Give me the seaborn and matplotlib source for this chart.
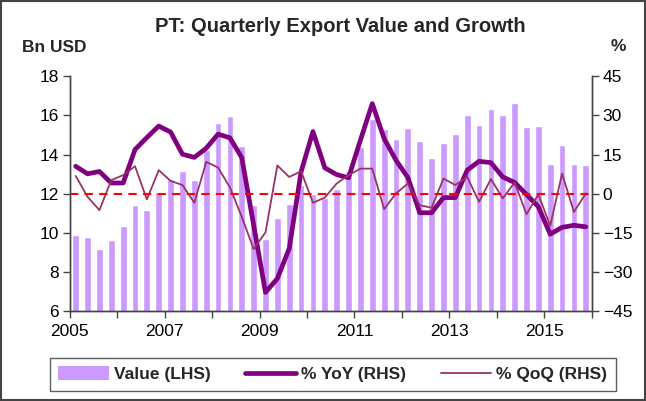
import numpy as np
import pandas as pd
import matplotlib
matplotlib.use("Agg")
import matplotlib.pyplot as plt
import seaborn as sns
from matplotlib.patches import Patch, Rectangle
from matplotlib.lines import Line2D

# Quarterly data, 2005Q1 - 2015Q4
years = [str(y) for y in range(2005, 2017)]
quarters = [f"{y}Q{q}" for y in range(2005, 2016) for q in range(1, 5)]

value_bn = [9.9, 9.8, 9.15, 9.65, 10.35, 11.4, 11.15, 12.1,
            12.75, 13.15, 12.7, 14.25, 15.6, 15.95, 14.45, 11.4,
            9.7, 10.75, 11.45, 12.45, 12.0, 11.8, 12.25, 13.15,
            14.4, 15.8, 15.3, 14.8, 15.35, 14.7, 13.8, 14.6,
            15.05, 16.0, 15.5, 16.3, 16.0, 16.65, 15.4, 15.45,
            13.5, 14.5, 13.5, 13.45]

yoy_pct = [10.5, 7.6, 8.5, 4.1, 4.1, 16.9, 21.5, 25.9,
           23.6, 15.1, 13.9, 17.4, 22.8, 21.4, 13.8, -12.0,
           -37.8, -32.5, -21.0, 8.4, 23.8, 9.9, 7.3, 6.1,
           20.5, 34.5, 21.1, 12.8, 6.2, -7.3, -7.3, -1.5,
           -1.5, 9.0, 12.4, 11.9, 6.4, 4.3, -0.3, -5.0,
           -15.5, -12.9, -12.1, -12.7]

qoq_pct = [6.8, -1.2, -6.3, 5.2, 7.1, 10.5, -2.2, 9.0,
           4.9, 3.3, -3.5, 12.2, 10.0, 2.4, -8.9, -21.2,
           -14.8, 10.8, 6.4, 8.6, -3.5, -1.5, 3.9, 7.1,
           9.6, 9.6, -5.9, 0.1, 3.9, -4.4, -5.4, 5.8,
           3.3, 6.4, -3.1, 5.6, -1.8, 4.3, -7.9, -0.3,
           -12.3, 7.7, -7.0, 0.1]

df = pd.DataFrame({
    "Quarter": quarters,
    "Value": value_bn,
    "YoY": yoy_pct,
    "QoQ": qoq_pct,
})
df["pos"] = np.arange(len(df))

sns.set_style("white")
plt.rcParams["font.family"] = ["Liberation Sans", "DejaVu Sans"]

bar_color = "#CC99FF"
yoy_color = "#800080"
qoq_color = "#993366"

fig = plt.figure(figsize=(6.46, 4.01), dpi=100)
ax = fig.add_axes([0.108, 0.224, 0.808, 0.586])

sns.barplot(data=df, x="Quarter", y="Value", color=bar_color,
            saturation=1, width=0.57, ax=ax)

ax2 = ax.twinx()
sns.lineplot(x=df["pos"], y=df["YoY"], color=yoy_color, linewidth=3.4, ax=ax2)
sns.lineplot(x=df["pos"], y=df["QoQ"], color=qoq_color, linewidth=1.3, ax=ax2)
ax2.axhline(0, color="red", linestyle=(0, (4, 3)), linewidth=1.5)

ax.set_xlim(-0.5, len(df) - 0.5)
ax.set_ylim(6, 18)
ax.set_yticks(range(6, 19, 2))
ax2.set_ylim(-45, 45)
ax2.set_yticks(range(-45, 46, 15))

year_pos = [-0.5 + 4 * i for i in range(len(years))]
ax.set_xticks(year_pos)
ax.set_xticklabels([y if i % 2 == 0 else "" for i, y in enumerate(years)])

ax.set_xlabel("")
ax.set_ylabel("")
ax2.set_xlabel("")
ax2.set_ylabel("")

for a in (ax, ax2):
    a.spines["top"].set_visible(False)
    for s in ("left", "right", "bottom"):
        a.spines[s].set_color("#444444")
        a.spines[s].set_linewidth(1.0)
    a.tick_params(direction="out", length=5, width=1, color="#444444",
                  labelsize=12.5, labelcolor="black")
ax.tick_params(axis="y", left=True, pad=3)
ax.tick_params(axis="x", bottom=True, pad=4)
ax2.tick_params(axis="y", right=True, pad=3)

fig.text(0.527, 0.933, "PT: Quarterly Export Value and Growth",
         ha="center", va="center", fontsize=14.5, fontweight="bold")
fig.text(0.034, 0.882, "Bn USD", ha="left", va="center",
         fontsize=12.5, fontweight="bold")
fig.text(0.957, 0.885, "%", ha="center", va="center",
         fontsize=12.5, fontweight="bold")

handles = [
    Patch(facecolor=bar_color, edgecolor="none"),
    Line2D([0], [0], color=yoy_color, linewidth=3.4),
    Line2D([0], [0], color=qoq_color, linewidth=1.3),
]
labels = ["Value (LHS)", "% YoY (RHS)", "% QoQ (RHS)"]
leg = fig.legend(handles, labels, loc="center", ncol=3,
                 bbox_to_anchor=(0.515, 0.067), frameon=True, fancybox=False,
                 edgecolor="#333333", handlelength=2.9, handleheight=0.8,
                 columnspacing=2.0, borderpad=0.5, handletextpad=0.3,
                 borderaxespad=0,
                 prop={"weight": "bold", "size": 12.5})
leg.get_frame().set_linewidth(1.0)

fig.patches.append(Rectangle((0.002, 0.002), 0.996, 0.996,
                             transform=fig.transFigure, fill=False,
                             edgecolor="#444444", linewidth=1.5))

fig.savefig("out.png", dpi=100)
